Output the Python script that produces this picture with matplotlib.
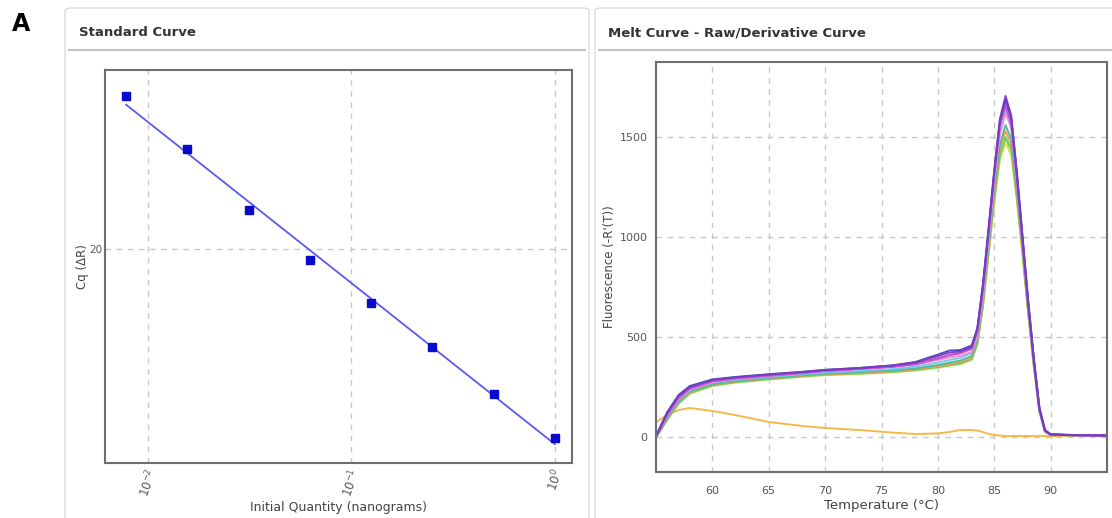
import numpy as np
import matplotlib
matplotlib.use("Agg")
import matplotlib.pyplot as plt
from matplotlib.patches import FancyBboxPatch
from matplotlib.lines import Line2D

# ---------------- data: standard curve ----------------
quantity_ng = [0.0078125, 0.015625, 0.03125, 0.0625, 0.125, 0.25, 0.5, 1.0]
cq_values = [23.12, 22.04, 20.80, 19.78, 18.90, 18.00, 17.04, 16.14]
std_xticks = [0.01, 0.1, 1.0]
std_xticklabels = [r"$10^{-2}$", r"$10^{-1}$", r"$10^{0}$"]
std_yticks = [15, 20, 25]

# ---------------- data: melt curve ----------------
temp_c = [55, 56, 57, 58, 60, 62, 65, 68, 70, 73, 76, 78, 80, 81, 82, 83, 83.5, 84,
          84.5, 85, 85.5, 86, 86.5, 87, 87.5, 88, 88.5, 89, 89.5, 90, 92, 95]

melt_purple = [5, 120, 205, 250, 285, 298, 312, 325, 335, 345, 358, 372, 405, 422, 428, 450, 540, 760,
               1040, 1330, 1590, 1705, 1610, 1330, 1010, 690, 400, 150, 35, 14, 10, 8]
melt_blue = [5, 125, 210, 255, 288, 300, 314, 326, 336, 345, 358, 375, 412, 432, 435, 458, 545, 765,
             1045, 1330, 1580, 1690, 1600, 1320, 1000, 680, 395, 145, 33, 13, 10, 8]
melt_magenta = [3, 110, 195, 242, 278, 292, 306, 320, 330, 340, 352, 365, 392, 408, 418, 440, 525, 740,
                1020, 1310, 1560, 1670, 1585, 1310, 995, 675, 390, 140, 30, 12, 9, 7]
melt_violet = [4, 112, 198, 245, 280, 294, 308, 321, 331, 341, 352, 364, 394, 410, 420, 445, 535, 750,
               1030, 1315, 1565, 1655, 1570, 1300, 985, 668, 385, 140, 30, 12, 9, 7]
melt_pink = [2, 105, 190, 238, 275, 290, 305, 320, 330, 340, 350, 362, 385, 398, 405, 425, 505, 715,
             990, 1270, 1510, 1620, 1545, 1280, 975, 660, 380, 138, 30, 12, 9, 7]
melt_lightblue = [2, 102, 186, 235, 272, 286, 300, 314, 322, 330, 340, 352, 372, 385, 395, 420, 500, 710,
                  990, 1275, 1525, 1640, 1560, 1295, 985, 668, 386, 140, 30, 12, 9, 7]
melt_teal = [0, 95, 178, 228, 265, 280, 295, 309, 317, 325, 333, 343, 360, 372, 382, 405, 485, 690,
             960, 1235, 1460, 1560, 1490, 1240, 950, 645, 370, 132, 28, 11, 8, 7]
melt_green = [-2, 88, 170, 220, 258, 274, 290, 304, 312, 318, 326, 335, 350, 360, 368, 390, 470, 665,
              930, 1195, 1410, 1500, 1440, 1205, 925, 630, 362, 130, 28, 11, 8, 7]
melt_lightgreen = [-3, 85, 166, 216, 255, 271, 287, 301, 309, 315, 323, 332, 346, 356, 364, 385, 460, 650,
                   915, 1180, 1400, 1490, 1430, 1200, 920, 628, 360, 130, 28, 11, 8, 7]
melt_orange = [0, 92, 174, 224, 262, 277, 292, 306, 314, 320, 328, 338, 354, 364, 372, 395, 475, 675,
               945, 1215, 1440, 1530, 1465, 1225, 940, 640, 368, 132, 28, 11, 8, 7]
melt_yellow = [-2, 90, 172, 222, 260, 275, 290, 304, 312, 318, 326, 336, 350, 360, 368, 390, 465, 655,
               915, 1175, 1385, 1470, 1410, 1185, 915, 625, 360, 130, 28, 11, 8, 7]
melt_ntc = [75, 110, 135, 145, 130, 110, 75, 55, 45, 35, 22, 15, 18, 25, 35, 35, 32, 25,
            15, 10, 7, 5, 5, 5, 5, 5, 5, 5, 5, 5, 5, 5]

melt_xticks = [60, 65, 70, 75, 80, 85, 90]
melt_yticks = [0, 500, 1000, 1500]

# drawing order (bottom to top) with colours
melt_series = [
    (melt_ntc, "#F4B63F"),
    (melt_yellow, "#F0D24E"),
    (melt_lightgreen, "#A9E66C"),
    (melt_green, "#66CC66"),
    (melt_orange, "#EBA040"),
    (melt_teal, "#4DB5A6"),
    (melt_lightblue, "#72C6EA"),
    (melt_pink, "#F08CC6"),
    (melt_violet, "#9B55E0"),
    (melt_magenta, "#D050D0"),
    (melt_blue, "#4444BB"),
    (melt_purple, "#7A3CC0"),
]

W, H = 1112, 518
fig = plt.figure(figsize=(W / 100, H / 100), dpi=100)
fig.patch.set_facecolor("white")


def fx(x):
    return x / W


def fy(y):
    return 1 - y / H


def add_axes_px(x0, y0, x1, y1):
    ax = fig.add_axes([fx(x0), fy(y1), (x1 - x0) / W, (y1 - y0) / H])
    ax.set_zorder(5)
    return ax


# panels
for (x0, x1) in [(65, 589), (595, 1120)]:
    box = FancyBboxPatch((fx(x0), fy(540)), (x1 - x0) / W, (540 - 8) / H,
                         boxstyle="round,pad=0,rounding_size=0.006",
                         transform=fig.transFigure, facecolor="white",
                         edgecolor="#DCDCDC", linewidth=1.0, zorder=-2)
    fig.patches.append(box)
fig.lines.append(Line2D([fx(69), fx(585)], [fy(50), fy(50)], transform=fig.transFigure,
                        color="#C4C4C4", lw=1.5, zorder=-1))
fig.lines.append(Line2D([fx(599), fx(1112)], [fy(50), fy(50)], transform=fig.transFigure,
                        color="#C4C4C4", lw=1.5, zorder=-1))

fig.text(fx(12), fy(24), "A", fontsize=17, fontweight="bold", va="center", ha="left", color="black")
fig.text(fx(79), fy(33), "Standard Curve", fontsize=9.5, fontweight="bold", va="center",
         ha="left", color="#333333")
fig.text(fx(608), fy(33), "Melt Curve - Raw/Derivative Curve", fontsize=9.5, fontweight="bold",
         va="center", ha="left", color="#333333")

spine_col = "#6E6E6E"
grid_kw = dict(color="#C8C8C8", linestyle=(0, (4, 4)), linewidth=1.0)

# ---------------- left: standard curve ----------------
ax1 = add_axes_px(105, 70, 572, 463)
ax1.set_xscale("log")
logq = np.log10(quantity_ng)
slope, intercept = np.polyfit(logq, cq_values, 1)
fit_x = np.array([quantity_ng[0], quantity_ng[-1]])
ax1.plot(fit_x, slope * np.log10(fit_x) + intercept, color="#5A5AF0", lw=1.3, zorder=3)
ax1.plot(quantity_ng, cq_values, linestyle="none", marker="s", markersize=6,
         markerfacecolor="#0A0ACC", markeredgecolor="#0A0ACC", zorder=4)
ax1.set_xticks(std_xticks)
ax1.set_xticklabels(std_xticklabels, rotation=70, fontsize=8.5, color="#555555")
ax1.xaxis.set_minor_locator(matplotlib.ticker.NullLocator())
ax1.set_yticks(std_yticks)
ax1.set_yticklabels([str(v) for v in std_yticks], fontsize=7.5, color="#555555")
ax1.set_xlim(10 ** -2.211, 10 ** 0.084)
ax1.set_ylim(15.63, 23.65)
ax1.tick_params(length=0, pad=3)
ax1.tick_params(axis="y", pad=2)
ax1.grid(True, which="major", **grid_kw)
ax1.set_axisbelow(True)
for s in ax1.spines.values():
    s.set_color(spine_col)
    s.set_linewidth(1.5)
ax1.set_xlabel("Initial Quantity (nanograms)", fontsize=9, color="#444444", labelpad=1)
ax1.set_ylabel("Cq (ΔR)", fontsize=8.5, color="#444444", labelpad=0)

# ---------------- right: melt curve ----------------
ax2 = add_axes_px(656, 62, 1107, 472)
for vals, col in melt_series:
    ax2.plot(temp_c, vals, color=col, lw=1.4, alpha=0.95)
ax2.set_xticks(melt_xticks)
ax2.set_yticks(melt_yticks)
ax2.set_xlim(55, 95)
ax2.set_ylim(-175, 1875)
ax2.tick_params(length=0, labelsize=8, labelcolor="#555555", pad=10)
ax2.tick_params(axis="y", pad=6)
ax2.grid(True, **grid_kw)
ax2.set_axisbelow(True)
for s in ax2.spines.values():
    s.set_color(spine_col)
    s.set_linewidth(1.5)
ax2.set_xlabel("Temperature (°C)", fontsize=9.5, color="#444444", labelpad=2)
ax2.set_ylabel("Fluorescence (-R'(T))", fontsize=8.5, color="#444444", labelpad=3)

fig.savefig("out.png", dpi=100, facecolor="white")
